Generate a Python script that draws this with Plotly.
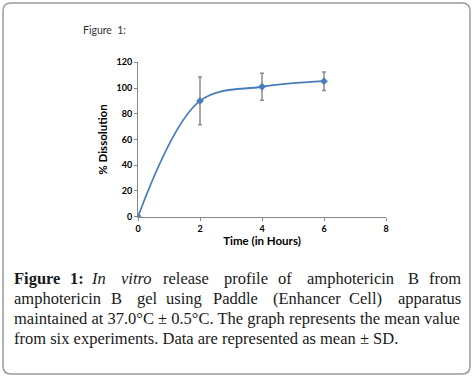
import plotly.graph_objects as go

# ---- data ----
time_h = [0, 2, 4, 6]
dissolution = [0, 90, 101, 105.3]
sd = [0, 18.5, 10.5, 7.2]
x_ticks = [0, 2, 4, 6, 8]
y_ticks = [0, 20, 40, 60, 80, 100, 120]

W, H = 474, 377

caption_line1 = [("<b>Figure</b>", 12.3, "left"), ("<b>1:</b>", 76.5, "center"), ("<i>In</i>", 98, "center"),
                 ("<i>vitro</i>", 136, "center"), ("release", 186, "center"), ("profile", 246, "center"),
                 ("of", 285, "center"), ("amphotericin", 350, "center"), ("B", 413, "center"),
                 ("from", 463, "right")]
caption_line2 = [("amphotericin", 12.3, "left"), ("B", 116, "center"), ("gel", 147, "center"),
                 ("using", 183.5, "center"), ("Paddle", 235.5, "center"), ("(Enhancer", 307, "center"),
                 ("Cell)", 365.5, "center"), ("apparatus", 463, "right")]
caption_line3 = "maintained at 37.0°C ± 0.5°C. The graph represents the mean value"
caption_line4 = "from six experiments. Data are represented as mean ± SD."

BLUE = "#4a7ebb"

fig = go.Figure()
fig.add_trace(go.Scatter(
    x=time_h, y=dissolution, mode="lines+markers",
    line=dict(color=BLUE, width=1.8, shape="spline", smoothing=1.0),
    marker=dict(symbol="diamond", size=6, color=BLUE),
    error_y=dict(type="data", array=sd, visible=True, color="#8c8c8c", thickness=1.5, width=2),
    showlegend=False,
))

x0, x1 = 138, 386
y0, y1 = 216.7, 62.3
tickfont = dict(family="Lato", size=9, color="#000000")

fig.update_layout(
    width=W, height=H,
    margin=dict(l=0, r=0, t=0, b=0, autoexpand=False),
    paper_bgcolor="white", plot_bgcolor="white",
    xaxis=dict(domain=[x0 / W, x1 / W], range=[0, 8], tickvals=x_ticks,
               ticktext=[f"<b>{v}</b>" for v in x_ticks], automargin=False,
               showgrid=False, zeroline=False, showline=True, linecolor="#868686", linewidth=1,
               ticks="outside", ticklen=3, tickcolor="#868686", tickfont=tickfont,
               title=dict(text="<b>Time (in Hours)</b>", font=dict(family="Lato", size=11.5, color="#000"),
                          standoff=4)),
    yaxis=dict(domain=[1 - y0 / H, 1 - y1 / H], range=[0, 120], tickvals=y_ticks,
               ticktext=[f"<b>{v}</b>" for v in y_ticks], automargin=False,
               showgrid=False, zeroline=False, showline=True, linecolor="#868686", linewidth=1,
               ticks="outside", ticklen=3, tickcolor="#868686", tickfont=tickfont,
               title=dict(text="<b>% Dissolution</b>", font=dict(family="Lato", size=11.5, color="#000"),
                          standoff=6)),
)

# rounded border
def px(x):
    return x / W

def py(y):
    return 1 - y / H

L, T, R, B, r = 3, 3, 470, 374, 8
path = (f"M {px(L + r)},{py(T)} L {px(R - r)},{py(T)} Q {px(R)},{py(T)} {px(R)},{py(T + r)} "
        f"L {px(R)},{py(B - r)} Q {px(R)},{py(B)} {px(R - r)},{py(B)} "
        f"L {px(L + r)},{py(B)} Q {px(L)},{py(B)} {px(L)},{py(B - r)} "
        f"L {px(L)},{py(T + r)} Q {px(L)},{py(T)} {px(L + r)},{py(T)} Z")
fig.add_shape(type="path", path=path, xref="paper", yref="paper",
              line=dict(color="#9a9a9a", width=1.5))

# "Figure 1:" label
fig.add_annotation(text="Figure  1:", x=px(81), y=py(30), xref="paper", yref="paper",
                   xanchor="left", yanchor="middle", showarrow=False,
                   font=dict(family="Lato", size=10.5, color="#333333"))

cap_font = dict(family="Liberation Serif", size=16.5, color="#1a1a1a")
for words, yc in [(caption_line1, 278), (caption_line2, 298)]:
    for w, xx, anc in words:
        fig.add_annotation(text=w, x=px(xx), y=py(yc), xref="paper", yref="paper",
                           xanchor=anc, yanchor="middle", showarrow=False, font=cap_font)
for line, yc in [(caption_line3, 318), (caption_line4, 338)]:
    fig.add_annotation(text=line, x=px(12.3), y=py(yc), xref="paper", yref="paper",
                       xanchor="left", yanchor="middle", showarrow=False, font=cap_font)

fig.write_html("out.html", config={"displayModeBar": False},
               post_script="document.body.style.margin='0';document.body.style.overflow='hidden';")
